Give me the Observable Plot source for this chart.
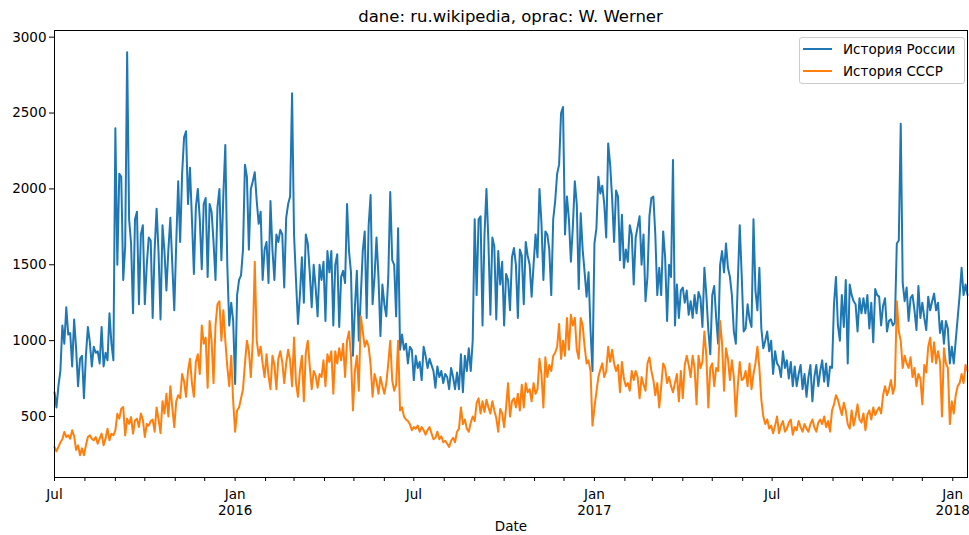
<!DOCTYPE html>
<html><head><meta charset="utf-8">
<script src="https://cdn.jsdelivr.net/npm/d3@7"></script>
<script src="https://cdn.jsdelivr.net/npm/@observablehq/plot@0.6"></script>
<style>
body{margin:0;background:#fff;font-family:"DejaVu Sans",sans-serif;}
#wrap{position:relative;width:969px;height:535px;background:#fff;}
#title{box-sizing:border-box;height:24px;padding:8px 2px 0 54px;text-align:center;font-size:16.5px;line-height:17px;color:#000;white-space:nowrap;}
#legend{position:absolute;left:799px;top:37px;width:166px;height:47px;border:1px solid #cccccc;border-radius:3px;background:rgba(255,255,255,0.8);box-sizing:border-box;font-size:13.5px;color:#000;}
.sw{position:absolute;left:3px;width:29px;height:2px;}
.lt{position:absolute;left:43px;line-height:16px;white-space:nowrap;}
</style></head>
<body>
<div id="wrap">
  <div id="title">dane: ru.wikipedia, oprac: W. Werner</div>
  <div id="chart"></div>
  <div id="legend"></div>
</div>
<script>
// Series names and colours
const seriesNames = ["История России", "История СССР"];
const seriesColors = ["#1f77b4", "#ff7f0e"];

// Daily page views, one value every 2 days starting 2015-07-01
const startDate = "2015-07-01";
const stepDays = 2;

const russiaViews = [
  // Jul - Sep 2015
  660,560,700,800,1100,980,1220,1040,1050,830,1140,950,700,880,900,620,900,1090,990,830,960,920,930,850,1090,830,920,870,1180,980,870,2400,1500,2100,2080,1400,1620,2900,1800,1640,1180,1800,1850,1240,
  // Sep - Dec 2015
  1700,1760,1240,1500,1680,1660,1150,1600,1870,1580,1140,1760,1590,1330,1600,1810,1500,1200,1640,2050,1650,2100,2340,2380,1900,2140,1800,1440,1880,2000,1800,1470,1900,1940,1420,1900,1850,1650,1400,1880,2000,1530,1960,2290,1500,1100,
  // Dec 2015 - Mar 2016
  1250,1130,715,1300,1400,1430,1600,2160,2080,1600,2000,2050,2110,1920,1770,1850,1400,1600,1650,1380,1920,1600,1400,1700,1650,1730,1700,1350,1810,1900,1950,2630,1700,1400,1110,1300,1550,1250,1700,1640,1450,1220,1500,1350,1160,1500,
  // Mar - Jun 2016
  1400,1520,1130,1590,1450,1590,1100,1500,1570,1090,1420,1460,1380,1900,1590,1450,900,1220,1460,1000,1290,1590,1720,1150,1760,1960,1240,1420,1680,1420,1030,1370,1240,1160,1420,1980,1530,1500,1160,1740,940,1040,940,980,850,960,
  // Jun - Sep 2016
  940,740,900,820,860,740,960,900,820,880,840,800,690,830,760,800,720,780,760,680,820,760,680,790,680,910,660,900,800,950,800,1000,1800,1300,1800,1820,1100,1700,2000,1650,1170,1680,1620,1140,1590,1370,
  // Sep - Dec 2016
  1520,1100,1440,1400,1200,1550,1610,1500,1150,1600,1560,1240,1650,1560,1500,1290,1500,1700,1550,2000,1780,1400,1720,1700,1600,1300,1800,1920,2100,2160,2500,2540,1700,1950,1800,1520,1750,2050,1900,1340,1840,1600,1450,1290,1450,
  // Dec 2016 - Mar 2017
  1070,800,1640,1740,2080,1970,2020,1900,1680,2300,2160,1940,1650,1990,1950,1530,1830,1480,1600,1520,1760,1700,1370,1680,1750,1820,1500,1700,1260,1420,1820,1940,1950,1700,1300,1480,1300,1720,1550,1130,1500,1420,2190,1100,1370,1150,
  // Apr - Jun 2017
  1330,1350,1250,1330,1170,1260,1150,1300,1180,1320,1280,1090,1480,1300,1070,910,1300,1360,1150,980,1500,1590,1450,1640,1480,1420,1300,1060,980,1380,1760,1430,1060,1080,1240,1140,1090,1800,1330,1200,1480,1080,950,1000,1060,930,
  // Jul - Sep 2017
  1000,780,930,850,830,760,930,820,870,750,860,700,830,700,780,840,680,780,630,760,840,600,760,840,700,800,870,730,850,700,830,820,1240,1420,1100,1000,1300,1090,1400,850,1370,1300,1260,1240,1060,1280,
  // Oct 2017 - Jan 2018
  1180,1280,1180,1300,1080,1250,990,1340,1300,1290,1100,1230,1280,1060,1130,1140,1100,1120,1640,1660,2430,1380,1260,1350,1130,1280,1300,1200,1070,1360,1150,1250,1150,1070,1290,1200,1260,1310,1200,1250,1050,1130,980,1130,1080,850,960,850,1000,1150,1300,1480,1300,1370,1300
];

const ussrViews = [
  // Jul - Sep 2015
  299,270,300,330,350,398,365,376,354,409,370,280,310,244,290,244,310,365,376,354,343,365,321,354,387,310,354,420,343,387,376,409,518,486,551,562,376,486,452,496,387,474,486,431,
  // Sep - Dec 2015
  520,480,365,450,440,470,480,400,560,480,390,600,520,650,500,700,560,430,600,640,620,780,730,630,800,880,720,630,860,910,780,1100,980,1020,690,1130,1000,720,1100,1240,1260,1000,1200,1000,830,700,
  // Dec 2015 - Mar 2016
  900,600,400,540,560,620,680,850,1000,930,760,1000,1520,1000,900,960,850,760,910,770,680,900,840,680,880,930,860,720,850,940,870,700,1020,720,630,800,900,600,920,1000,830,680,800,770,690,780,
  // Mar - Jun 2016
  760,870,700,910,860,930,650,930,850,950,870,980,760,1000,1060,900,540,800,900,670,1160,1060,960,1000,960,840,630,780,730,650,760,700,650,720,850,1000,740,670,710,1000,540,560,500,480,470,450,
  // Jun - Sep 2016
  410,430,420,440,400,430,410,380,410,430,390,350,360,400,350,370,330,340,320,300,340,360,330,400,420,560,450,480,420,400,460,500,470,590,620,520,600,530,610,560,520,600,540,490,400,550,
  // Sep - Dec 2016
  520,430,560,720,500,600,620,560,650,540,710,560,720,660,680,600,720,650,680,880,780,560,890,760,840,800,900,920,960,1110,880,1000,900,1150,940,1170,1100,1150,940,880,1150,1100,960,850,870,
  // Dec 2016 - Mar 2017
  800,440,560,660,760,810,850,760,800,960,860,940,850,800,840,660,860,750,700,720,670,800,740,800,760,620,760,710,670,850,890,800,740,640,720,560,700,850,820,720,760,700,660,720,780,600,
  // Apr - Jun 2017
  800,620,840,900,840,760,900,820,580,900,820,860,1060,900,560,820,850,700,820,800,1130,980,670,950,880,740,870,760,500,700,860,740,750,800,700,850,680,780,850,960,820,610,500,450,480,420,
  // Jul - Sep 2017
  440,390,440,500,390,440,470,400,420,460,480,380,430,410,470,430,400,450,420,400,450,480,430,400,460,480,450,500,430,470,400,540,580,640,610,560,510,590,540,450,420,540,440,500,580,480,
  // Oct 2017 - Jan 2018
  460,520,410,510,540,480,560,510,540,560,520,640,700,640,680,740,650,700,1260,1060,1000,820,900,850,820,890,760,820,700,780,750,580,840,790,960,1020,860,990,850,930,860,500,950,850,820,450,600,520,640,700,720,780,720,840,800
];

// Axis ticks and labels
const yTicks = [500, 1000, 1500, 2000, 2500, 3000];
const xLabelDates = ["2015-07-01", "2016-01-01", "2016-07-01", "2017-01-01", "2017-07-01", "2018-01-01"];
const xLabels = ["Jul", "Jan\n2016", "Jul", "Jan\n2017", "Jul", "Jan\n2018"];
const xTitle = "Date";

// Build the table for Plot
const start = new Date(startDate + "T00:00:00Z");
const rows = [];
[russiaViews, ussrViews].forEach((vals, s) => {
  vals.forEach((v, i) => rows.push({date: d3.utcDay.offset(start, i * stepDays), value: v, series: seriesNames[s]}));
});
const lastDate = d3.utcDay.offset(start, (russiaViews.length - 1) * stepDays);
const monthTicks = d3.utcMonths(start, d3.utcDay.offset(lastDate, 1));
const labelDates = xLabelDates.map(d => new Date(d + "T00:00:00Z"));

const chart = Plot.plot({
  width: 969,
  height: 511,
  marginTop: 6,
  marginBottom: 58,
  marginLeft: 54,
  marginRight: 2,
  style: {fontFamily: "DejaVu Sans", fontSize: "13.5px", color: "#000", background: "#fff", overflow: "visible"},
  x: {type: "utc", domain: [start, lastDate]},
  y: {domain: [98, 3044]},
  color: {domain: seriesNames, range: seriesColors},
  marks: [
    Plot.line(rows, {x: "date", y: "value", z: "series", stroke: "series", strokeWidth: 2}),
    Plot.frame({stroke: "#000", strokeWidth: 1}),
    Plot.axisY({ticks: yTicks, tickSize: 5, tickPadding: 3, label: null, tickFormat: d => String(d), fill: "#000", fontSize: 13.5}),
    Plot.axisX({ticks: monthTicks, tickSize: 4, tickFormat: () => "", label: null}),
    Plot.text(labelDates, {x: d => d, text: (d, i) => xLabels[i], frameAnchor: "bottom", dy: 10, lineAnchor: "top", lineHeight: 1.19, fill: "#000", fontSize: 13.5}),
    Plot.text([xTitle], {text: d => d, frameAnchor: "bottom", dy: 44, lineAnchor: "top", fill: "#000", fontSize: 13.5})
  ]
});
document.getElementById("chart").appendChild(chart);

// Legend
const legend = document.getElementById("legend");
seriesNames.forEach((name, i) => {
  const sw = document.createElement("div");
  sw.className = "sw";
  sw.style.background = seriesColors[i];
  sw.style.top = (i === 0 ? 10 : 32) + "px";
  legend.appendChild(sw);
  const t = document.createElement("div");
  t.className = "lt";
  t.style.top = (i === 0 ? 3 : 25) + "px";
  t.textContent = name;
  legend.appendChild(t);
});
</script>
</body></html>
